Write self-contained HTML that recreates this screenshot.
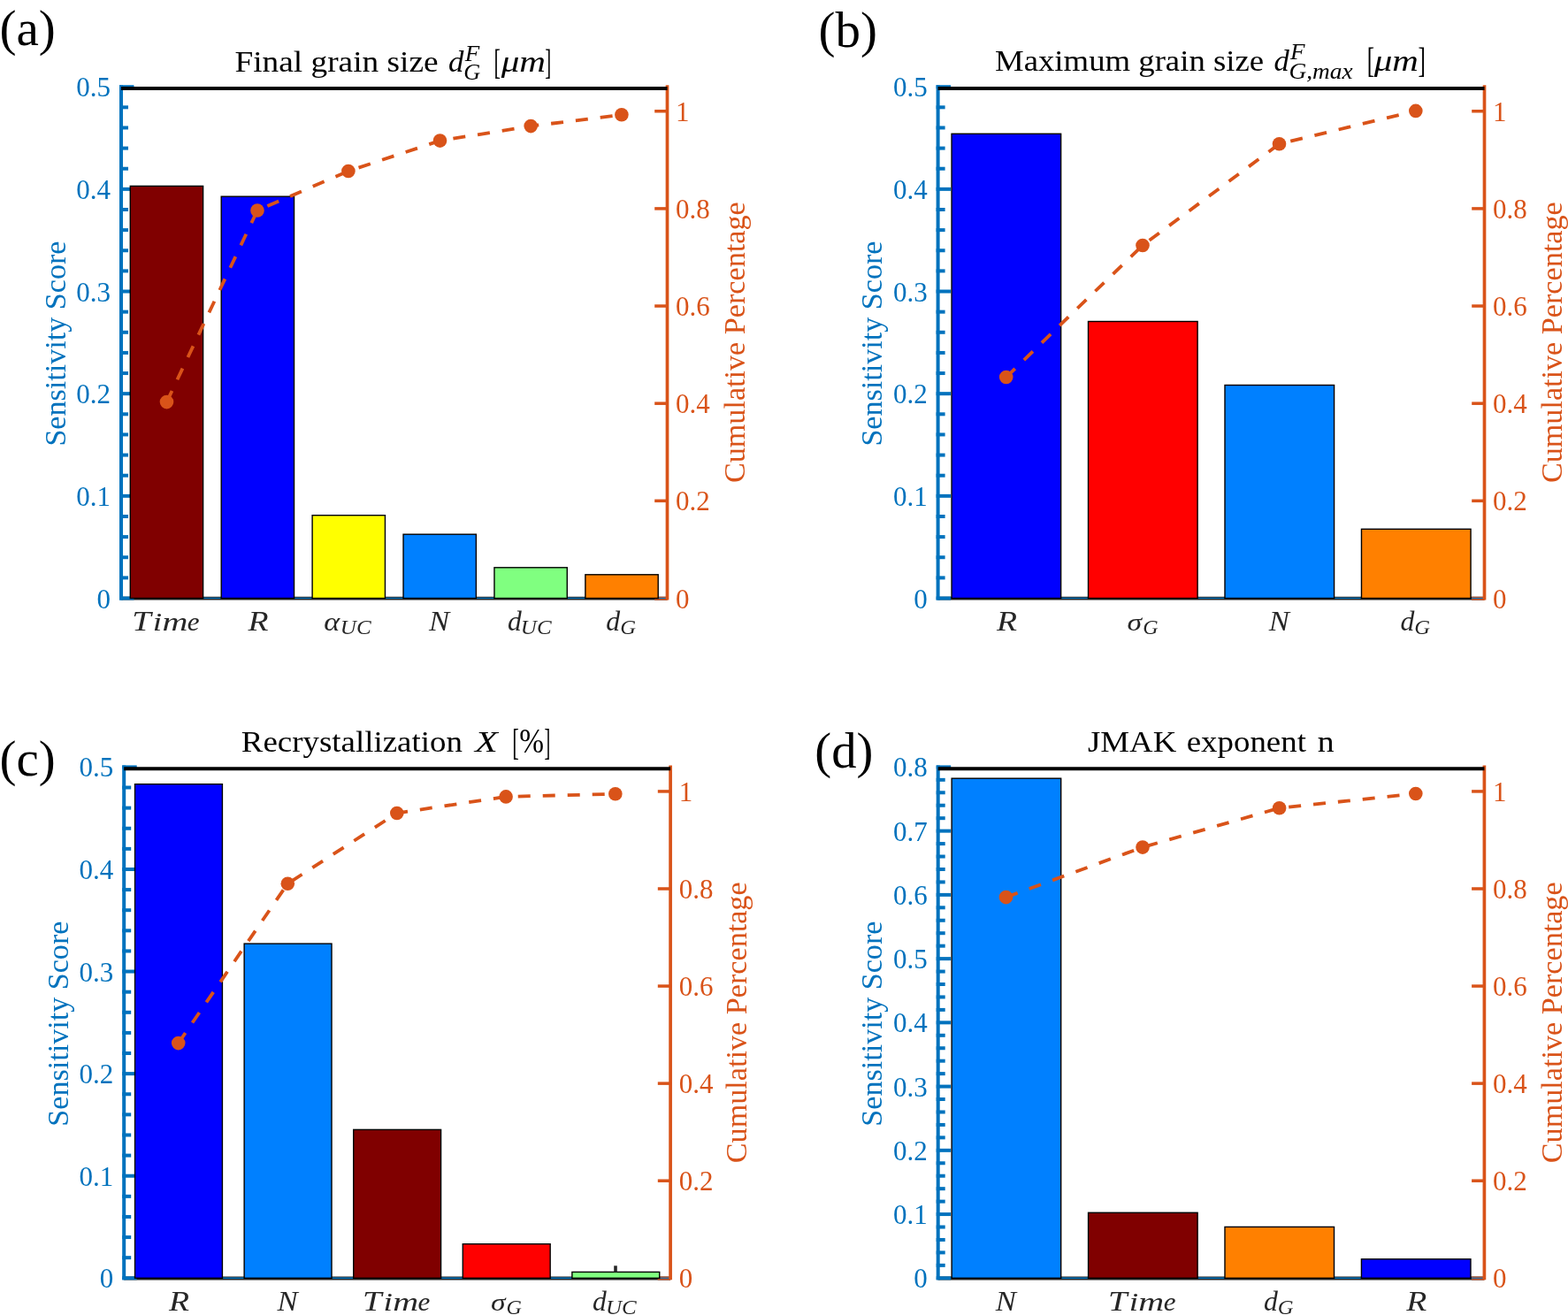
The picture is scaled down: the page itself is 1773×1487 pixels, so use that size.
<!DOCTYPE html><html><head><meta charset="utf-8"><title>Sensitivity analysis</title><style>html,body{margin:0;padding:0;background:#fff;overflow:hidden;}svg{display:block;}text{font-family:'Liberation Serif', serif;}</style></head><body>
<svg width="1773" height="1487" viewBox="0 0 1773 1487">
<rect x="0" y="0" width="1773" height="1487" fill="#fff"/>
<g><line x1="137.00" y1="676.70" x2="754.50" y2="676.70" stroke="#262626" stroke-width="3.8"/><line x1="137.00" y1="676.40" x2="754.50" y2="676.40" stroke="#0072BD" stroke-width="1.4"/><line x1="740.20" y1="676.60" x2="754.50" y2="676.60" stroke="#D95319" stroke-width="3.6"/><line x1="740.20" y1="678.00" x2="754.50" y2="678.00" stroke="#B0502E" stroke-width="1.3"/><line x1="740.20" y1="676.40" x2="754.50" y2="676.40" stroke="#0072BD" stroke-width="1.2"/><line x1="137.00" y1="96.20" x2="137.00" y2="678.50" stroke="#0072BD" stroke-width="4"/><line x1="135.00" y1="676.50" x2="151.50" y2="676.50" stroke="#0072BD" stroke-width="4"/><text x="125.10" y="687.50" font-size="31.0" fill="#0072BD" text-anchor="end">0</text><line x1="135.00" y1="653.37" x2="145.00" y2="653.37" stroke="#0072BD" stroke-width="4"/><line x1="135.00" y1="630.24" x2="145.00" y2="630.24" stroke="#0072BD" stroke-width="4"/><line x1="135.00" y1="607.10" x2="145.00" y2="607.10" stroke="#0072BD" stroke-width="4"/><line x1="135.00" y1="583.97" x2="145.00" y2="583.97" stroke="#0072BD" stroke-width="4"/><line x1="135.00" y1="560.84" x2="151.50" y2="560.84" stroke="#0072BD" stroke-width="4"/><text x="125.10" y="571.84" font-size="31.0" fill="#0072BD" text-anchor="end">0.1</text><line x1="135.00" y1="537.71" x2="145.00" y2="537.71" stroke="#0072BD" stroke-width="4"/><line x1="135.00" y1="514.58" x2="145.00" y2="514.58" stroke="#0072BD" stroke-width="4"/><line x1="135.00" y1="491.44" x2="145.00" y2="491.44" stroke="#0072BD" stroke-width="4"/><line x1="135.00" y1="468.31" x2="145.00" y2="468.31" stroke="#0072BD" stroke-width="4"/><line x1="135.00" y1="445.18" x2="151.50" y2="445.18" stroke="#0072BD" stroke-width="4"/><text x="125.10" y="456.18" font-size="31.0" fill="#0072BD" text-anchor="end">0.2</text><line x1="135.00" y1="422.05" x2="145.00" y2="422.05" stroke="#0072BD" stroke-width="4"/><line x1="135.00" y1="398.92" x2="145.00" y2="398.92" stroke="#0072BD" stroke-width="4"/><line x1="135.00" y1="375.78" x2="145.00" y2="375.78" stroke="#0072BD" stroke-width="4"/><line x1="135.00" y1="352.65" x2="145.00" y2="352.65" stroke="#0072BD" stroke-width="4"/><line x1="135.00" y1="329.52" x2="151.50" y2="329.52" stroke="#0072BD" stroke-width="4"/><text x="125.10" y="340.52" font-size="31.0" fill="#0072BD" text-anchor="end">0.3</text><line x1="135.00" y1="306.39" x2="145.00" y2="306.39" stroke="#0072BD" stroke-width="4"/><line x1="135.00" y1="283.26" x2="145.00" y2="283.26" stroke="#0072BD" stroke-width="4"/><line x1="135.00" y1="260.12" x2="145.00" y2="260.12" stroke="#0072BD" stroke-width="4"/><line x1="135.00" y1="236.99" x2="145.00" y2="236.99" stroke="#0072BD" stroke-width="4"/><line x1="135.00" y1="213.86" x2="151.50" y2="213.86" stroke="#0072BD" stroke-width="4"/><text x="125.10" y="224.86" font-size="31.0" fill="#0072BD" text-anchor="end">0.4</text><line x1="135.00" y1="190.73" x2="145.00" y2="190.73" stroke="#0072BD" stroke-width="4"/><line x1="135.00" y1="167.60" x2="145.00" y2="167.60" stroke="#0072BD" stroke-width="4"/><line x1="135.00" y1="144.46" x2="145.00" y2="144.46" stroke="#0072BD" stroke-width="4"/><line x1="135.00" y1="121.33" x2="145.00" y2="121.33" stroke="#0072BD" stroke-width="4"/><line x1="135.00" y1="98.20" x2="151.50" y2="98.20" stroke="#0072BD" stroke-width="4"/><text x="125.10" y="109.20" font-size="31.0" fill="#0072BD" text-anchor="end">0.5</text><line x1="754.50" y1="96.20" x2="754.50" y2="678.50" stroke="#D95319" stroke-width="3.7"/><text x="764.10" y="687.50" font-size="31.0" fill="#D95319">0</text><line x1="740.20" y1="566.35" x2="754.50" y2="566.35" stroke="#D95319" stroke-width="3.5"/><text x="764.10" y="577.35" font-size="31.0" fill="#D95319">0.2</text><line x1="740.20" y1="456.20" x2="754.50" y2="456.20" stroke="#D95319" stroke-width="3.5"/><text x="764.10" y="467.20" font-size="31.0" fill="#D95319">0.4</text><line x1="740.20" y1="346.04" x2="754.50" y2="346.04" stroke="#D95319" stroke-width="3.5"/><text x="764.10" y="357.04" font-size="31.0" fill="#D95319">0.6</text><line x1="740.20" y1="235.89" x2="754.50" y2="235.89" stroke="#D95319" stroke-width="3.5"/><text x="764.10" y="246.89" font-size="31.0" fill="#D95319">0.8</text><line x1="740.20" y1="125.74" x2="754.50" y2="125.74" stroke="#D95319" stroke-width="3.5"/><text x="764.10" y="136.74" font-size="31.0" fill="#D95319">1</text><rect x="147.29" y="210.40" width="82.33" height="466.10" fill="#800000" stroke="#000" stroke-width="1.4"/><rect x="250.21" y="222.20" width="82.33" height="454.30" fill="#0000FF" stroke="#000" stroke-width="1.4"/><rect x="353.12" y="582.70" width="82.33" height="93.80" fill="#FFFF00" stroke="#000" stroke-width="1.4"/><rect x="456.04" y="604.20" width="82.33" height="72.30" fill="#0080FF" stroke="#000" stroke-width="1.4"/><rect x="558.96" y="641.80" width="82.33" height="34.70" fill="#80FF80" stroke="#000" stroke-width="1.4"/><rect x="661.88" y="649.80" width="82.33" height="26.70" fill="#FF8000" stroke="#000" stroke-width="1.4"/><line x1="137.00" y1="100.00" x2="754.50" y2="100.00" stroke="#000" stroke-width="4.1"/><polyline points="188.50,454.60 291.00,238.00 393.90,193.50 497.50,159.10 600.20,142.60 702.90,129.80" fill="none" stroke="#D95319" stroke-width="3.8" stroke-dasharray="14 14"/><circle cx="188.50" cy="454.60" r="7.8" fill="#D95319"/><circle cx="291.00" cy="238.00" r="7.8" fill="#D95319"/><circle cx="393.90" cy="193.50" r="7.8" fill="#D95319"/><circle cx="497.50" cy="159.10" r="7.8" fill="#D95319"/><circle cx="600.20" cy="142.60" r="7.8" fill="#D95319"/><circle cx="702.90" cy="129.80" r="7.8" fill="#D95319"/><text transform="translate(149.21,712.80) scale(1.2259,1.0000)" font-size="31.50" fill="#262626" font-style="italic">T</text><text transform="translate(172.82,712.80) scale(1.2522,1.0000)" font-size="30.00" fill="#262626" font-style="italic">i</text><text transform="translate(183.46,712.80) scale(1.3351,1.0000)" font-size="30.00" fill="#262626" font-style="italic">m</text><text transform="translate(211.85,712.80) scale(1.0383,1.0000)" font-size="30.00" fill="#262626" font-style="italic">e</text><text transform="translate(280.42,712.80) scale(1.1974,1.0000)" font-size="31.50" fill="#262626" font-style="italic">R</text><text transform="translate(366.16,712.80) scale(1.1832,1.0000)" font-size="29.00" fill="#262626" font-style="italic">α</text><text transform="translate(384.83,717.40) scale(1.0667,1.0000)" font-size="23.50" fill="#262626" font-style="italic">UC</text><text transform="translate(485.08,712.80) scale(1.1033,1.0000)" font-size="31.50" fill="#262626" font-style="italic">N</text><text transform="translate(573.92,712.80) scale(1.0017,1.0000)" font-size="31.50" fill="#262626" font-style="italic">d</text><text transform="translate(588.87,717.40) scale(1.0634,1.0000)" font-size="23.50" fill="#262626" font-style="italic">UC</text><text transform="translate(685.23,712.80) scale(1.0084,1.0000)" font-size="31.50" fill="#262626" font-style="italic">d</text><text transform="translate(701.13,717.40) scale(1.0492,1.0000)" font-size="23.50" fill="#262626" font-style="italic">G</text><text transform="translate(73.55,504.59) rotate(-90) scale(0.9973,1)" font-size="34.20" fill="#0072BD">Sensitivity Score</text><text transform="translate(841.75,546.12) rotate(-90) scale(0.9994,1)" font-size="34.20" fill="#D95319">Cumulative Percentage</text><text transform="translate(265.42,81.20) scale(1.0827,1.0000)" font-size="34.50" fill="#000">Final grain size</text><text transform="translate(506.89,81.20) scale(1.0076,1.0000)" font-size="34.50" fill="#000" font-style="italic">d</text><text transform="translate(525.84,68.70) scale(1.0816,1.0000)" font-size="25.00" fill="#000" font-style="italic">F</text><text transform="translate(524.26,90.30) scale(1.0481,1.0000)" font-size="25.00" fill="#000" font-style="italic">G</text><text transform="translate(558.39,83.54) scale(0.6452,1.1808)" font-size="34.50" fill="#000">[</text><text transform="translate(566.70,81.20) scale(1.1914,1.0000)" font-size="34.50" fill="#000" font-style="italic">μm</text><text transform="translate(616.24,83.54) scale(0.6065,1.1808)" font-size="34.50" fill="#000">]</text><text x="-0.60" y="50.62" font-size="57.16" fill="#000">(a)</text></g>
<g><line x1="1060.60" y1="676.70" x2="1678.50" y2="676.70" stroke="#262626" stroke-width="3.8"/><line x1="1060.60" y1="676.40" x2="1678.50" y2="676.40" stroke="#0072BD" stroke-width="1.4"/><line x1="1664.20" y1="676.60" x2="1678.50" y2="676.60" stroke="#D95319" stroke-width="3.6"/><line x1="1664.20" y1="678.00" x2="1678.50" y2="678.00" stroke="#B0502E" stroke-width="1.3"/><line x1="1664.20" y1="676.40" x2="1678.50" y2="676.40" stroke="#0072BD" stroke-width="1.2"/><line x1="1060.60" y1="96.20" x2="1060.60" y2="678.50" stroke="#0072BD" stroke-width="4"/><line x1="1058.60" y1="676.50" x2="1075.10" y2="676.50" stroke="#0072BD" stroke-width="4"/><text x="1048.70" y="687.50" font-size="31.0" fill="#0072BD" text-anchor="end">0</text><line x1="1058.60" y1="653.37" x2="1068.60" y2="653.37" stroke="#0072BD" stroke-width="4"/><line x1="1058.60" y1="630.24" x2="1068.60" y2="630.24" stroke="#0072BD" stroke-width="4"/><line x1="1058.60" y1="607.10" x2="1068.60" y2="607.10" stroke="#0072BD" stroke-width="4"/><line x1="1058.60" y1="583.97" x2="1068.60" y2="583.97" stroke="#0072BD" stroke-width="4"/><line x1="1058.60" y1="560.84" x2="1075.10" y2="560.84" stroke="#0072BD" stroke-width="4"/><text x="1048.70" y="571.84" font-size="31.0" fill="#0072BD" text-anchor="end">0.1</text><line x1="1058.60" y1="537.71" x2="1068.60" y2="537.71" stroke="#0072BD" stroke-width="4"/><line x1="1058.60" y1="514.58" x2="1068.60" y2="514.58" stroke="#0072BD" stroke-width="4"/><line x1="1058.60" y1="491.44" x2="1068.60" y2="491.44" stroke="#0072BD" stroke-width="4"/><line x1="1058.60" y1="468.31" x2="1068.60" y2="468.31" stroke="#0072BD" stroke-width="4"/><line x1="1058.60" y1="445.18" x2="1075.10" y2="445.18" stroke="#0072BD" stroke-width="4"/><text x="1048.70" y="456.18" font-size="31.0" fill="#0072BD" text-anchor="end">0.2</text><line x1="1058.60" y1="422.05" x2="1068.60" y2="422.05" stroke="#0072BD" stroke-width="4"/><line x1="1058.60" y1="398.92" x2="1068.60" y2="398.92" stroke="#0072BD" stroke-width="4"/><line x1="1058.60" y1="375.78" x2="1068.60" y2="375.78" stroke="#0072BD" stroke-width="4"/><line x1="1058.60" y1="352.65" x2="1068.60" y2="352.65" stroke="#0072BD" stroke-width="4"/><line x1="1058.60" y1="329.52" x2="1075.10" y2="329.52" stroke="#0072BD" stroke-width="4"/><text x="1048.70" y="340.52" font-size="31.0" fill="#0072BD" text-anchor="end">0.3</text><line x1="1058.60" y1="306.39" x2="1068.60" y2="306.39" stroke="#0072BD" stroke-width="4"/><line x1="1058.60" y1="283.26" x2="1068.60" y2="283.26" stroke="#0072BD" stroke-width="4"/><line x1="1058.60" y1="260.12" x2="1068.60" y2="260.12" stroke="#0072BD" stroke-width="4"/><line x1="1058.60" y1="236.99" x2="1068.60" y2="236.99" stroke="#0072BD" stroke-width="4"/><line x1="1058.60" y1="213.86" x2="1075.10" y2="213.86" stroke="#0072BD" stroke-width="4"/><text x="1048.70" y="224.86" font-size="31.0" fill="#0072BD" text-anchor="end">0.4</text><line x1="1058.60" y1="190.73" x2="1068.60" y2="190.73" stroke="#0072BD" stroke-width="4"/><line x1="1058.60" y1="167.60" x2="1068.60" y2="167.60" stroke="#0072BD" stroke-width="4"/><line x1="1058.60" y1="144.46" x2="1068.60" y2="144.46" stroke="#0072BD" stroke-width="4"/><line x1="1058.60" y1="121.33" x2="1068.60" y2="121.33" stroke="#0072BD" stroke-width="4"/><line x1="1058.60" y1="98.20" x2="1075.10" y2="98.20" stroke="#0072BD" stroke-width="4"/><text x="1048.70" y="109.20" font-size="31.0" fill="#0072BD" text-anchor="end">0.5</text><line x1="1678.50" y1="96.20" x2="1678.50" y2="678.50" stroke="#D95319" stroke-width="3.7"/><text x="1688.10" y="687.50" font-size="31.0" fill="#D95319">0</text><line x1="1664.20" y1="566.35" x2="1678.50" y2="566.35" stroke="#D95319" stroke-width="3.5"/><text x="1688.10" y="577.35" font-size="31.0" fill="#D95319">0.2</text><line x1="1664.20" y1="456.20" x2="1678.50" y2="456.20" stroke="#D95319" stroke-width="3.5"/><text x="1688.10" y="467.20" font-size="31.0" fill="#D95319">0.4</text><line x1="1664.20" y1="346.04" x2="1678.50" y2="346.04" stroke="#D95319" stroke-width="3.5"/><text x="1688.10" y="357.04" font-size="31.0" fill="#D95319">0.6</text><line x1="1664.20" y1="235.89" x2="1678.50" y2="235.89" stroke="#D95319" stroke-width="3.5"/><text x="1688.10" y="246.89" font-size="31.0" fill="#D95319">0.8</text><line x1="1664.20" y1="125.74" x2="1678.50" y2="125.74" stroke="#D95319" stroke-width="3.5"/><text x="1688.10" y="136.74" font-size="31.0" fill="#D95319">1</text><rect x="1076.05" y="151.30" width="123.58" height="525.20" fill="#0000FF" stroke="#000" stroke-width="1.4"/><rect x="1230.52" y="363.50" width="123.58" height="313.00" fill="#FF0000" stroke="#000" stroke-width="1.4"/><rect x="1385.00" y="435.50" width="123.58" height="241.00" fill="#0080FF" stroke="#000" stroke-width="1.4"/><rect x="1539.47" y="598.30" width="123.58" height="78.20" fill="#FF8000" stroke="#000" stroke-width="1.4"/><line x1="1060.60" y1="100.00" x2="1678.50" y2="100.00" stroke="#000" stroke-width="4.1"/><polyline points="1137.70,426.50 1292.00,277.50 1446.50,162.80 1600.80,125.40" fill="none" stroke="#D95319" stroke-width="3.8" stroke-dasharray="14 14"/><circle cx="1137.70" cy="426.50" r="7.8" fill="#D95319"/><circle cx="1292.00" cy="277.50" r="7.8" fill="#D95319"/><circle cx="1446.50" cy="162.80" r="7.8" fill="#D95319"/><circle cx="1600.80" cy="125.40" r="7.8" fill="#D95319"/><text transform="translate(1126.89,712.80) scale(1.1974,1.0000)" font-size="31.50" fill="#262626" font-style="italic">R</text><text transform="translate(1274.48,712.80) scale(1.2411,1.0000)" font-size="27.00" fill="#262626" font-style="italic">σ</text><text transform="translate(1292.13,717.40) scale(1.0230,1.0000)" font-size="23.50" fill="#262626" font-style="italic">G</text><text transform="translate(1434.66,712.80) scale(1.1033,1.0000)" font-size="31.50" fill="#262626" font-style="italic">N</text><text transform="translate(1583.45,712.80) scale(1.0084,1.0000)" font-size="31.50" fill="#262626" font-style="italic">d</text><text transform="translate(1599.35,717.40) scale(1.0492,1.0000)" font-size="23.50" fill="#262626" font-style="italic">G</text><text transform="translate(997.15,504.59) rotate(-90) scale(0.9973,1)" font-size="34.20" fill="#0072BD">Sensitivity Score</text><text transform="translate(1765.75,546.12) rotate(-90) scale(0.9994,1)" font-size="34.20" fill="#D95319">Cumulative Percentage</text><text transform="translate(1125.03,79.60) scale(1.0654,1.0000)" font-size="34.50" fill="#000">Maximum grain size</text><text transform="translate(1440.40,79.60) scale(1.0015,1.0000)" font-size="34.50" fill="#000" font-style="italic">d</text><text transform="translate(1459.04,66.50) scale(1.0816,1.0000)" font-size="25.00" fill="#000" font-style="italic">F</text><text transform="translate(1457.39,88.80) scale(1.0951,1.0000)" font-size="25.00" fill="#000" font-style="italic">G,max</text><text transform="translate(1545.69,81.92) scale(0.7226,1.1843)" font-size="34.50" fill="#000">[</text><text transform="translate(1553.70,79.60) scale(1.1865,1.0000)" font-size="34.50" fill="#000" font-style="italic">μm</text><text transform="translate(1603.48,81.92) scale(0.7355,1.1843)" font-size="34.50" fill="#000">]</text><text x="925.50" y="52.70" font-size="56.94" fill="#000">(b)</text></g>
<g><line x1="140.20" y1="1445.50" x2="758.10" y2="1445.50" stroke="#262626" stroke-width="3.8"/><line x1="140.20" y1="1445.20" x2="758.10" y2="1445.20" stroke="#0072BD" stroke-width="1.4"/><line x1="743.80" y1="1445.40" x2="758.10" y2="1445.40" stroke="#D95319" stroke-width="3.6"/><line x1="743.80" y1="1446.80" x2="758.10" y2="1446.80" stroke="#B0502E" stroke-width="1.3"/><line x1="743.80" y1="1445.20" x2="758.10" y2="1445.20" stroke="#0072BD" stroke-width="1.2"/><line x1="140.20" y1="865.40" x2="140.20" y2="1447.30" stroke="#0072BD" stroke-width="4"/><line x1="138.20" y1="1445.30" x2="154.70" y2="1445.30" stroke="#0072BD" stroke-width="4"/><text x="128.30" y="1456.30" font-size="31.0" fill="#0072BD" text-anchor="end">0</text><line x1="138.20" y1="1422.18" x2="148.20" y2="1422.18" stroke="#0072BD" stroke-width="4"/><line x1="138.20" y1="1399.07" x2="148.20" y2="1399.07" stroke="#0072BD" stroke-width="4"/><line x1="138.20" y1="1375.95" x2="148.20" y2="1375.95" stroke="#0072BD" stroke-width="4"/><line x1="138.20" y1="1352.84" x2="148.20" y2="1352.84" stroke="#0072BD" stroke-width="4"/><line x1="138.20" y1="1329.72" x2="154.70" y2="1329.72" stroke="#0072BD" stroke-width="4"/><text x="128.30" y="1340.72" font-size="31.0" fill="#0072BD" text-anchor="end">0.1</text><line x1="138.20" y1="1306.60" x2="148.20" y2="1306.60" stroke="#0072BD" stroke-width="4"/><line x1="138.20" y1="1283.49" x2="148.20" y2="1283.49" stroke="#0072BD" stroke-width="4"/><line x1="138.20" y1="1260.37" x2="148.20" y2="1260.37" stroke="#0072BD" stroke-width="4"/><line x1="138.20" y1="1237.26" x2="148.20" y2="1237.26" stroke="#0072BD" stroke-width="4"/><line x1="138.20" y1="1214.14" x2="154.70" y2="1214.14" stroke="#0072BD" stroke-width="4"/><text x="128.30" y="1225.14" font-size="31.0" fill="#0072BD" text-anchor="end">0.2</text><line x1="138.20" y1="1191.02" x2="148.20" y2="1191.02" stroke="#0072BD" stroke-width="4"/><line x1="138.20" y1="1167.91" x2="148.20" y2="1167.91" stroke="#0072BD" stroke-width="4"/><line x1="138.20" y1="1144.79" x2="148.20" y2="1144.79" stroke="#0072BD" stroke-width="4"/><line x1="138.20" y1="1121.68" x2="148.20" y2="1121.68" stroke="#0072BD" stroke-width="4"/><line x1="138.20" y1="1098.56" x2="154.70" y2="1098.56" stroke="#0072BD" stroke-width="4"/><text x="128.30" y="1109.56" font-size="31.0" fill="#0072BD" text-anchor="end">0.3</text><line x1="138.20" y1="1075.44" x2="148.20" y2="1075.44" stroke="#0072BD" stroke-width="4"/><line x1="138.20" y1="1052.33" x2="148.20" y2="1052.33" stroke="#0072BD" stroke-width="4"/><line x1="138.20" y1="1029.21" x2="148.20" y2="1029.21" stroke="#0072BD" stroke-width="4"/><line x1="138.20" y1="1006.10" x2="148.20" y2="1006.10" stroke="#0072BD" stroke-width="4"/><line x1="138.20" y1="982.98" x2="154.70" y2="982.98" stroke="#0072BD" stroke-width="4"/><text x="128.30" y="993.98" font-size="31.0" fill="#0072BD" text-anchor="end">0.4</text><line x1="138.20" y1="959.86" x2="148.20" y2="959.86" stroke="#0072BD" stroke-width="4"/><line x1="138.20" y1="936.75" x2="148.20" y2="936.75" stroke="#0072BD" stroke-width="4"/><line x1="138.20" y1="913.63" x2="148.20" y2="913.63" stroke="#0072BD" stroke-width="4"/><line x1="138.20" y1="890.52" x2="148.20" y2="890.52" stroke="#0072BD" stroke-width="4"/><line x1="138.20" y1="867.40" x2="154.70" y2="867.40" stroke="#0072BD" stroke-width="4"/><text x="128.30" y="878.40" font-size="31.0" fill="#0072BD" text-anchor="end">0.5</text><line x1="758.10" y1="865.40" x2="758.10" y2="1447.30" stroke="#D95319" stroke-width="3.7"/><text x="767.70" y="1456.30" font-size="31.0" fill="#D95319">0</text><line x1="743.80" y1="1335.22" x2="758.10" y2="1335.22" stroke="#D95319" stroke-width="3.5"/><text x="767.70" y="1346.22" font-size="31.0" fill="#D95319">0.2</text><line x1="743.80" y1="1225.15" x2="758.10" y2="1225.15" stroke="#D95319" stroke-width="3.5"/><text x="767.70" y="1236.15" font-size="31.0" fill="#D95319">0.4</text><line x1="743.80" y1="1115.07" x2="758.10" y2="1115.07" stroke="#D95319" stroke-width="3.5"/><text x="767.70" y="1126.07" font-size="31.0" fill="#D95319">0.6</text><line x1="743.80" y1="1005.00" x2="758.10" y2="1005.00" stroke="#D95319" stroke-width="3.5"/><text x="767.70" y="1016.00" font-size="31.0" fill="#D95319">0.8</text><line x1="743.80" y1="894.92" x2="758.10" y2="894.92" stroke="#D95319" stroke-width="3.5"/><text x="767.70" y="905.92" font-size="31.0" fill="#D95319">1</text><rect x="152.56" y="886.70" width="98.86" height="558.60" fill="#0000FF" stroke="#000" stroke-width="1.4"/><rect x="276.14" y="1067.10" width="98.86" height="378.20" fill="#0080FF" stroke="#000" stroke-width="1.4"/><rect x="399.72" y="1277.40" width="98.86" height="167.90" fill="#800000" stroke="#000" stroke-width="1.4"/><rect x="523.30" y="1406.70" width="98.86" height="38.60" fill="#FF0000" stroke="#000" stroke-width="1.4"/><rect x="646.88" y="1438.40" width="98.86" height="6.90" fill="#80FF80" stroke="#000" stroke-width="1.4"/><line x1="140.20" y1="869.30" x2="758.10" y2="869.30" stroke="#000" stroke-width="4.1"/><line x1="696" y1="1431.3" x2="696" y2="1438.6" stroke="#262626" stroke-width="3.6"/><polyline points="201.70,1179.60 325.30,999.20 448.80,919.50 572.10,900.90 695.80,897.80" fill="none" stroke="#D95319" stroke-width="3.8" stroke-dasharray="14 14"/><circle cx="201.70" cy="1179.60" r="7.8" fill="#D95319"/><circle cx="325.30" cy="999.20" r="7.8" fill="#D95319"/><circle cx="448.80" cy="919.50" r="7.8" fill="#D95319"/><circle cx="572.10" cy="900.90" r="7.8" fill="#D95319"/><circle cx="695.80" cy="897.80" r="7.8" fill="#D95319"/><text transform="translate(191.04,1481.60) scale(1.1974,1.0000)" font-size="31.50" fill="#262626" font-style="italic">R</text><text transform="translate(313.45,1481.60) scale(1.1033,1.0000)" font-size="31.50" fill="#262626" font-style="italic">N</text><text transform="translate(409.90,1481.60) scale(1.2259,1.0000)" font-size="31.50" fill="#262626" font-style="italic">T</text><text transform="translate(433.52,1481.60) scale(1.2522,1.0000)" font-size="30.00" fill="#262626" font-style="italic">i</text><text transform="translate(444.15,1481.60) scale(1.3351,1.0000)" font-size="30.00" fill="#262626" font-style="italic">m</text><text transform="translate(472.54,1481.60) scale(1.0383,1.0000)" font-size="30.00" fill="#262626" font-style="italic">e</text><text transform="translate(554.90,1481.60) scale(1.2411,1.0000)" font-size="27.00" fill="#262626" font-style="italic">σ</text><text transform="translate(572.55,1486.20) scale(1.0230,1.0000)" font-size="23.50" fill="#262626" font-style="italic">G</text><text transform="translate(670.11,1481.60) scale(1.0017,1.0000)" font-size="31.50" fill="#262626" font-style="italic">d</text><text transform="translate(685.05,1486.20) scale(1.0634,1.0000)" font-size="23.50" fill="#262626" font-style="italic">UC</text><text transform="translate(76.75,1273.64) rotate(-90) scale(0.9973,1)" font-size="34.20" fill="#0072BD">Sensitivity Score</text><text transform="translate(844.35,1315.17) rotate(-90) scale(0.9994,1)" font-size="34.20" fill="#D95319">Cumulative Percentage</text><text transform="translate(272.83,850.30) scale(1.0704,1.0000)" font-size="34.50" fill="#000">Recrystallization</text><text transform="translate(536.98,850.30) scale(1.2258,1.0000)" font-size="34.50" fill="#000" font-style="italic">X</text><text transform="translate(579.35,853.09) scale(0.6581,1.2122)" font-size="34.50" fill="#000">[</text><text transform="translate(587.31,851.31) scale(0.9660,1.1872)" font-size="34.50" fill="#000">%</text><text transform="translate(615.56,853.09) scale(0.5935,1.2122)" font-size="34.50" fill="#000">]</text><text x="-0.50" y="876.70" font-size="56.94" fill="#000">(c)</text></g>
<g><line x1="1060.70" y1="1445.50" x2="1678.40" y2="1445.50" stroke="#262626" stroke-width="3.8"/><line x1="1060.70" y1="1445.20" x2="1678.40" y2="1445.20" stroke="#0072BD" stroke-width="1.4"/><line x1="1664.10" y1="1445.40" x2="1678.40" y2="1445.40" stroke="#D95319" stroke-width="3.6"/><line x1="1664.10" y1="1446.80" x2="1678.40" y2="1446.80" stroke="#B0502E" stroke-width="1.3"/><line x1="1664.10" y1="1445.20" x2="1678.40" y2="1445.20" stroke="#0072BD" stroke-width="1.2"/><line x1="1060.70" y1="865.40" x2="1060.70" y2="1447.30" stroke="#0072BD" stroke-width="4"/><line x1="1058.70" y1="1445.30" x2="1075.20" y2="1445.30" stroke="#0072BD" stroke-width="4"/><text x="1048.80" y="1456.30" font-size="31.0" fill="#0072BD" text-anchor="end">0</text><line x1="1058.70" y1="1430.85" x2="1068.70" y2="1430.85" stroke="#0072BD" stroke-width="4"/><line x1="1058.70" y1="1416.40" x2="1068.70" y2="1416.40" stroke="#0072BD" stroke-width="4"/><line x1="1058.70" y1="1401.96" x2="1068.70" y2="1401.96" stroke="#0072BD" stroke-width="4"/><line x1="1058.70" y1="1387.51" x2="1068.70" y2="1387.51" stroke="#0072BD" stroke-width="4"/><line x1="1058.70" y1="1373.06" x2="1075.20" y2="1373.06" stroke="#0072BD" stroke-width="4"/><text x="1048.80" y="1384.06" font-size="31.0" fill="#0072BD" text-anchor="end">0.1</text><line x1="1058.70" y1="1358.62" x2="1068.70" y2="1358.62" stroke="#0072BD" stroke-width="4"/><line x1="1058.70" y1="1344.17" x2="1068.70" y2="1344.17" stroke="#0072BD" stroke-width="4"/><line x1="1058.70" y1="1329.72" x2="1068.70" y2="1329.72" stroke="#0072BD" stroke-width="4"/><line x1="1058.70" y1="1315.27" x2="1068.70" y2="1315.27" stroke="#0072BD" stroke-width="4"/><line x1="1058.70" y1="1300.83" x2="1075.20" y2="1300.83" stroke="#0072BD" stroke-width="4"/><text x="1048.80" y="1311.83" font-size="31.0" fill="#0072BD" text-anchor="end">0.2</text><line x1="1058.70" y1="1286.38" x2="1068.70" y2="1286.38" stroke="#0072BD" stroke-width="4"/><line x1="1058.70" y1="1271.93" x2="1068.70" y2="1271.93" stroke="#0072BD" stroke-width="4"/><line x1="1058.70" y1="1257.48" x2="1068.70" y2="1257.48" stroke="#0072BD" stroke-width="4"/><line x1="1058.70" y1="1243.03" x2="1068.70" y2="1243.03" stroke="#0072BD" stroke-width="4"/><line x1="1058.70" y1="1228.59" x2="1075.20" y2="1228.59" stroke="#0072BD" stroke-width="4"/><text x="1048.80" y="1239.59" font-size="31.0" fill="#0072BD" text-anchor="end">0.3</text><line x1="1058.70" y1="1214.14" x2="1068.70" y2="1214.14" stroke="#0072BD" stroke-width="4"/><line x1="1058.70" y1="1199.69" x2="1068.70" y2="1199.69" stroke="#0072BD" stroke-width="4"/><line x1="1058.70" y1="1185.24" x2="1068.70" y2="1185.24" stroke="#0072BD" stroke-width="4"/><line x1="1058.70" y1="1170.80" x2="1068.70" y2="1170.80" stroke="#0072BD" stroke-width="4"/><line x1="1058.70" y1="1156.35" x2="1075.20" y2="1156.35" stroke="#0072BD" stroke-width="4"/><text x="1048.80" y="1167.35" font-size="31.0" fill="#0072BD" text-anchor="end">0.4</text><line x1="1058.70" y1="1141.90" x2="1068.70" y2="1141.90" stroke="#0072BD" stroke-width="4"/><line x1="1058.70" y1="1127.45" x2="1068.70" y2="1127.45" stroke="#0072BD" stroke-width="4"/><line x1="1058.70" y1="1113.01" x2="1068.70" y2="1113.01" stroke="#0072BD" stroke-width="4"/><line x1="1058.70" y1="1098.56" x2="1068.70" y2="1098.56" stroke="#0072BD" stroke-width="4"/><line x1="1058.70" y1="1084.11" x2="1075.20" y2="1084.11" stroke="#0072BD" stroke-width="4"/><text x="1048.80" y="1095.11" font-size="31.0" fill="#0072BD" text-anchor="end">0.5</text><line x1="1058.70" y1="1069.66" x2="1068.70" y2="1069.66" stroke="#0072BD" stroke-width="4"/><line x1="1058.70" y1="1055.22" x2="1068.70" y2="1055.22" stroke="#0072BD" stroke-width="4"/><line x1="1058.70" y1="1040.77" x2="1068.70" y2="1040.77" stroke="#0072BD" stroke-width="4"/><line x1="1058.70" y1="1026.32" x2="1068.70" y2="1026.32" stroke="#0072BD" stroke-width="4"/><line x1="1058.70" y1="1011.88" x2="1075.20" y2="1011.88" stroke="#0072BD" stroke-width="4"/><text x="1048.80" y="1022.88" font-size="31.0" fill="#0072BD" text-anchor="end">0.6</text><line x1="1058.70" y1="997.43" x2="1068.70" y2="997.43" stroke="#0072BD" stroke-width="4"/><line x1="1058.70" y1="982.98" x2="1068.70" y2="982.98" stroke="#0072BD" stroke-width="4"/><line x1="1058.70" y1="968.53" x2="1068.70" y2="968.53" stroke="#0072BD" stroke-width="4"/><line x1="1058.70" y1="954.09" x2="1068.70" y2="954.09" stroke="#0072BD" stroke-width="4"/><line x1="1058.70" y1="939.64" x2="1075.20" y2="939.64" stroke="#0072BD" stroke-width="4"/><text x="1048.80" y="950.64" font-size="31.0" fill="#0072BD" text-anchor="end">0.7</text><line x1="1058.70" y1="925.19" x2="1068.70" y2="925.19" stroke="#0072BD" stroke-width="4"/><line x1="1058.70" y1="910.74" x2="1068.70" y2="910.74" stroke="#0072BD" stroke-width="4"/><line x1="1058.70" y1="896.29" x2="1068.70" y2="896.29" stroke="#0072BD" stroke-width="4"/><line x1="1058.70" y1="881.85" x2="1068.70" y2="881.85" stroke="#0072BD" stroke-width="4"/><line x1="1058.70" y1="867.40" x2="1075.20" y2="867.40" stroke="#0072BD" stroke-width="4"/><text x="1048.80" y="878.40" font-size="31.0" fill="#0072BD" text-anchor="end">0.8</text><line x1="1678.40" y1="865.40" x2="1678.40" y2="1447.30" stroke="#D95319" stroke-width="3.7"/><text x="1688.00" y="1456.30" font-size="31.0" fill="#D95319">0</text><line x1="1664.10" y1="1335.22" x2="1678.40" y2="1335.22" stroke="#D95319" stroke-width="3.5"/><text x="1688.00" y="1346.22" font-size="31.0" fill="#D95319">0.2</text><line x1="1664.10" y1="1225.15" x2="1678.40" y2="1225.15" stroke="#D95319" stroke-width="3.5"/><text x="1688.00" y="1236.15" font-size="31.0" fill="#D95319">0.4</text><line x1="1664.10" y1="1115.07" x2="1678.40" y2="1115.07" stroke="#D95319" stroke-width="3.5"/><text x="1688.00" y="1126.07" font-size="31.0" fill="#D95319">0.6</text><line x1="1664.10" y1="1005.00" x2="1678.40" y2="1005.00" stroke="#D95319" stroke-width="3.5"/><text x="1688.00" y="1016.00" font-size="31.0" fill="#D95319">0.8</text><line x1="1664.10" y1="894.92" x2="1678.40" y2="894.92" stroke="#D95319" stroke-width="3.5"/><text x="1688.00" y="905.92" font-size="31.0" fill="#D95319">1</text><rect x="1076.14" y="880.20" width="123.54" height="565.10" fill="#0080FF" stroke="#000" stroke-width="1.4"/><rect x="1230.57" y="1371.30" width="123.54" height="74.00" fill="#800000" stroke="#000" stroke-width="1.4"/><rect x="1384.99" y="1387.40" width="123.54" height="57.90" fill="#FF8000" stroke="#000" stroke-width="1.4"/><rect x="1539.42" y="1423.80" width="123.54" height="21.50" fill="#0000FF" stroke="#000" stroke-width="1.4"/><line x1="1060.70" y1="869.30" x2="1678.40" y2="869.30" stroke="#000" stroke-width="4.1"/><polyline points="1137.50,1014.60 1292.00,958.10 1446.60,913.70 1600.80,897.50" fill="none" stroke="#D95319" stroke-width="3.8" stroke-dasharray="14 14"/><circle cx="1137.50" cy="1014.60" r="7.8" fill="#D95319"/><circle cx="1292.00" cy="958.10" r="7.8" fill="#D95319"/><circle cx="1446.60" cy="913.70" r="7.8" fill="#D95319"/><circle cx="1600.80" cy="897.50" r="7.8" fill="#D95319"/><text transform="translate(1125.79,1481.60) scale(1.1033,1.0000)" font-size="31.50" fill="#262626" font-style="italic">N</text><text transform="translate(1253.09,1481.60) scale(1.2259,1.0000)" font-size="31.50" fill="#262626" font-style="italic">T</text><text transform="translate(1276.70,1481.60) scale(1.2522,1.0000)" font-size="30.00" fill="#262626" font-style="italic">i</text><text transform="translate(1287.34,1481.60) scale(1.3351,1.0000)" font-size="30.00" fill="#262626" font-style="italic">m</text><text transform="translate(1315.73,1481.60) scale(1.0383,1.0000)" font-size="30.00" fill="#262626" font-style="italic">e</text><text transform="translate(1428.95,1481.60) scale(1.0084,1.0000)" font-size="31.50" fill="#262626" font-style="italic">d</text><text transform="translate(1444.85,1486.20) scale(1.0492,1.0000)" font-size="23.50" fill="#262626" font-style="italic">G</text><text transform="translate(1590.24,1481.60) scale(1.1974,1.0000)" font-size="31.50" fill="#262626" font-style="italic">R</text><text transform="translate(997.25,1273.64) rotate(-90) scale(0.9973,1)" font-size="34.20" fill="#0072BD">Sensitivity Score</text><text transform="translate(1765.65,1315.17) rotate(-90) scale(0.9994,1)" font-size="34.20" fill="#D95319">Cumulative Percentage</text><text transform="translate(1230.00,850.00) scale(1.0681,1.0000)" font-size="34.50" fill="#000">JMAK</text><text transform="translate(1341.73,850.00) scale(1.0691,1.0000)" font-size="34.50" fill="#000">exponent</text><text transform="translate(1489.78,850.00) scale(1.0938,1.0000)" font-size="34.50" fill="#000">n</text><text x="921.30" y="867.75" font-size="56.61" fill="#000">(d)</text></g>
</svg></body></html>
